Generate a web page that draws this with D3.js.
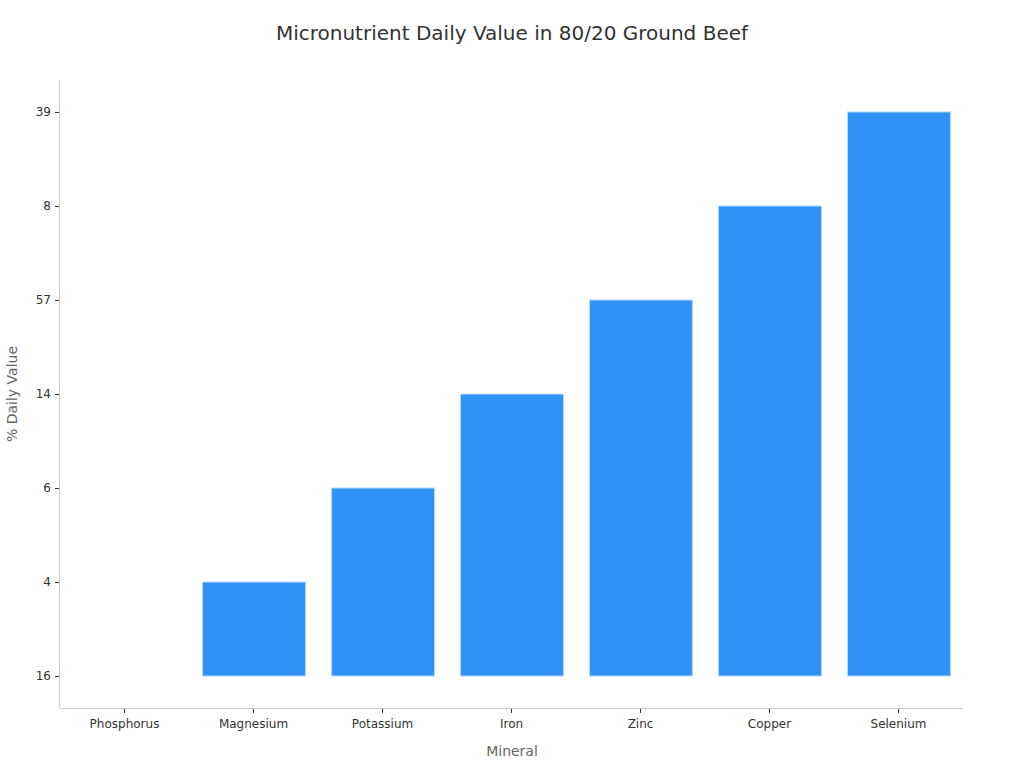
<!DOCTYPE html>
<html>
<head>
<meta charset="utf-8">
<script src="https://cdn.jsdelivr.net/npm/d3@7"></script>
<style>
  body { margin: 0; background: #fff; }
  text { font-family: "DejaVu Sans", sans-serif; }
  .axis .tick line { stroke: #333; }
  .axis .tick text { fill: #333; font-size: 12px; }
  .axis-line { stroke: #ccc; stroke-width: 1; }
</style>
</head>
<body>
<svg id="chart" width="1024" height="768"></svg>
<script>
var minerals = ["Phosphorus", "Magnesium", "Potassium", "Iron", "Zinc", "Copper", "Selenium"];
var dailyValue = ["16", "4", "6", "14", "57", "8", "39"];

var margin = {top: 80, right: 61, bottom: 60, left: 60},
    width = 1024 - margin.left - margin.right,
    height = 768 - margin.top - margin.bottom;

var svg = d3.select("#chart");
var g = svg.append("g")
    .attr("transform", "translate(" + margin.left + "," + margin.top + ")");

var x = d3.scaleBand()
    .domain(minerals)
    .range([0, width])
    .paddingInner(0.2)
    .paddingOuter(0.1);

// the value axis is categorical: each value is its own step
var y = d3.scalePoint()
    .domain(dailyValue)
    .range([height, 0])
    .padding(0.34);

var data = minerals.map(function(m, i) { return {name: m, value: dailyValue[i]}; });

g.selectAll(".bar")
    .data(data)
  .enter().append("rect")
    .attr("class", "bar")
    .attr("x", function(d) { return x(d.name) + 0.5; })
    .attr("width", x.bandwidth())
    .attr("y", function(d) { return y(d.value); })
    .attr("height", function(d) { return y(dailyValue[0]) - y(d.value); })
    .style("fill", "#3092f7")
    .style("stroke", "#b8dcff")
    .style("stroke-width", 1);

var xAxis = g.append("g")
    .attr("class", "axis")
    .attr("transform", "translate(0," + height + ")")
    .call(d3.axisBottom(x).tickSize(5).tickPadding(6));
xAxis.select(".domain").remove();

var yAxis = g.append("g")
    .attr("class", "axis")
    .call(d3.axisLeft(y).tickSize(5).tickPadding(4));
yAxis.select(".domain").remove();

g.append("line")
    .attr("class", "axis-line")
    .attr("x1", 0).attr("x2", width)
    .attr("y1", height + 0.5).attr("y2", height + 0.5);

g.append("line")
    .attr("class", "axis-line")
    .attr("x1", -0.5).attr("x2", -0.5)
    .attr("y1", 0).attr("y2", height);

svg.append("text")
    .attr("x", 512)
    .attr("y", 40)
    .attr("text-anchor", "middle")
    .style("font-size", "20px")
    .style("fill", "#333")
    .text("Micronutrient Daily Value in 80/20 Ground Beef");

svg.append("text")
    .attr("x", 512)
    .attr("y", 756)
    .attr("text-anchor", "middle")
    .style("font-size", "14px")
    .style("fill", "#666")
    .text("Mineral");

svg.append("text")
    .attr("transform", "translate(17," + (margin.top + height / 2) + ") rotate(-90)")
    .attr("text-anchor", "middle")
    .style("font-size", "14px")
    .style("fill", "#666")
    .text("% Daily Value");
</script>
</body>
</html>
